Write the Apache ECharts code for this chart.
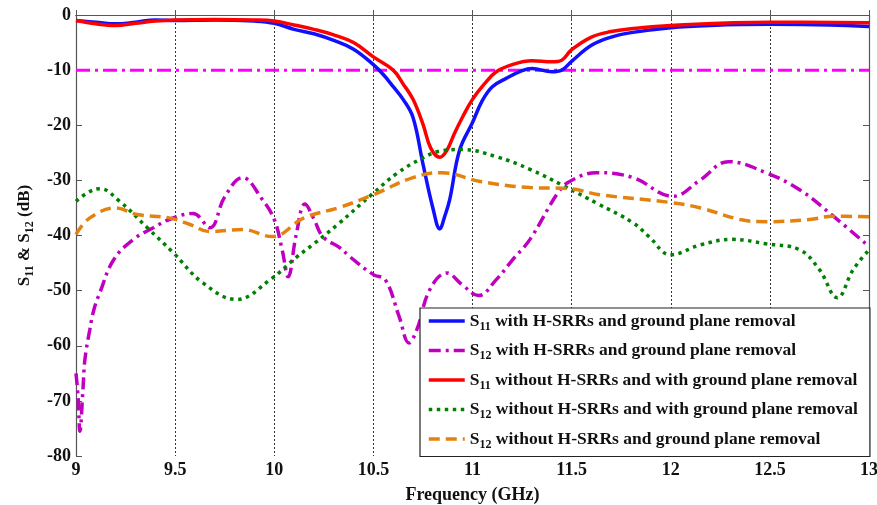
<!DOCTYPE html>
<html>
<head>
<meta charset="utf-8">
<script src="https://cdn.jsdelivr.net/npm/echarts@6/dist/echarts.min.js"></script>
<style>html,body{margin:0;padding:0;background:#fff}#c{width:877px;height:505px}</style>
</head>
<body>
<div id="c"></div>
<script>
// ---- data (GHz, dB) ----
const xTicks = [9, 9.5, 10, 10.5, 11, 11.5, 12, 12.5, 13];
const yTicks = [0, -10, -20, -30, -40, -50, -60, -70, -80];
const seriesNames = [
  'S11 with H-SRRs and ground plane removal',
  'S12 with H-SRRs and ground plane removal',
  'S11 without H-SRRs and with ground plane removal',
  'S12 without H-SRRs and with ground plane removal',
  'S12 without H-SRRs and ground plane removal'
];
const s11With = [[9,-1],[9.1,-1.3],[9.2,-1.6],[9.3,-1.3],[9.4,-0.9],[9.5,-1],[9.7,-0.9],[9.9,-1.1],[10,-1.5],[10.1,-2.6],[10.2,-3.4],[10.3,-4.6],[10.4,-6.2],[10.5,-9],[10.55,-10.8],[10.6,-13],[10.65,-15.3],[10.7,-18.6],[10.75,-27],[10.8,-35],[10.835,-38.8],[10.86,-36.5],[10.885,-33.5],[10.935,-24.5],[11,-19.5],[11.05,-15.5],[11.1,-13],[11.17,-11.5],[11.25,-10.1],[11.3,-9.7],[11.4,-10.3],[11.45,-10],[11.5,-8.4],[11.6,-5.5],[11.7,-4],[11.8,-3.2],[12,-2.3],[12.2,-1.9],[12.5,-1.7],[12.8,-1.8],[13,-2.1]];
const s12With = [[9,-65],[9.01,-69],[9.02,-75.5],[9.035,-68],[9.045,-62.5],[9.07,-57],[9.09,-53.5],[9.12,-50.4],[9.19,-44.4],[9.29,-40.7],[9.39,-38.6],[9.47,-37.1],[9.59,-36],[9.675,-38.6],[9.75,-33],[9.84,-29.5],[9.94,-33.5],[10,-37.1],[10.04,-42.6],[10.07,-47.5],[10.11,-40],[10.155,-34.3],[10.2,-37],[10.245,-40.2],[10.33,-42.2],[10.38,-43.8],[10.5,-47.1],[10.56,-48],[10.63,-54.7],[10.68,-59.5],[10.72,-57],[10.785,-49.8],[10.87,-46.8],[10.95,-49],[11.03,-50.9],[11.12,-48],[11.2,-44.5],[11.29,-40.7],[11.43,-32.3],[11.49,-30.2],[11.625,-28.6],[11.81,-29.5],[12.01,-32.9],[12.15,-29.9],[12.29,-26.6],[12.48,-28.6],[12.65,-31.7],[12.82,-36.5],[13,-42]];
const s11Without = [[9,-1],[9.1,-1.6],[9.2,-1.9],[9.3,-1.5],[9.4,-1.1],[9.5,-0.9],[9.7,-0.8],[9.9,-0.9],[10,-1.1],[10.1,-1.8],[10.2,-2.6],[10.3,-3.6],[10.4,-5],[10.5,-7.6],[10.6,-10],[10.65,-12.5],[10.7,-15.3],[10.75,-19.8],[10.79,-24.2],[10.835,-25.8],[10.87,-24.6],[10.91,-21.4],[10.95,-18.5],[11,-15.3],[11.06,-12.5],[11.12,-10.3],[11.2,-9],[11.3,-8.3],[11.4,-8.5],[11.45,-8.2],[11.5,-6.3],[11.6,-4],[11.7,-3],[11.8,-2.5],[12,-1.9],[12.5,-1.3],[13,-1.4]];
const s12WithoutGpr = [[9,-33.8],[9.06,-32.2],[9.12,-31.5],[9.22,-33.8],[9.36,-38.6],[9.49,-43.1],[9.64,-48.6],[9.81,-51.6],[9.98,-48],[10.11,-44],[10.2,-41.5],[10.32,-38],[10.5,-32.3],[10.62,-28.7],[10.735,-26.2],[10.835,-24.7],[10.95,-24.4],[11.12,-25.7],[11.29,-28],[11.46,-31],[11.63,-34.2],[11.81,-37.7],[11.89,-40.2],[12,-43.5],[12.15,-41.7],[12.31,-40.7],[12.48,-41.5],[12.65,-42.6],[12.75,-46.2],[12.84,-51.3],[12.92,-46.2],[13,-42.6]];
const s12WithoutBoth = [[9,-39.8],[9.07,-36.8],[9.2,-35],[9.31,-36.2],[9.47,-36.8],[9.575,-38],[9.675,-39.3],[9.84,-38.9],[9.99,-40.2],[10.15,-36.8],[10.33,-34.9],[10.5,-32.6],[10.7,-29.5],[10.845,-28.6],[11.04,-30.2],[11.29,-31.3],[11.49,-31.5],[11.64,-32.6],[11.995,-34],[12.15,-35],[12.35,-37.1],[12.48,-37.5],[12.7,-37.1],[12.82,-36.5],[13,-36.6]];
const refLine = [[9,-10],[13,-10]];

const FONT = '"Liberation Serif","Times New Roman",serif';
const chart = echarts.init(document.getElementById('c'), null, {renderer:'canvas'});

function richName(n){
  return n.replace(/^S(\d\d)(.*)$/, '{m|S}{s|$1}{m|$2}');
}
const legendRich = {
  m:{fontFamily:FONT,fontWeight:'bold',fontSize:17.5,color:'#111',lineHeight:22,verticalAlign:'middle'},
  s:{fontFamily:FONT,fontWeight:'bold',fontSize:12,color:'#111',lineHeight:23,verticalAlign:'bottom'}
};
const nameRich = {
  m:{fontFamily:FONT,fontWeight:'bold',fontSize:17,color:'#111',lineHeight:22,verticalAlign:'middle'},
  s:{fontFamily:FONT,fontWeight:'bold',fontSize:12,color:'#111',lineHeight:23,verticalAlign:'bottom'}
};

function lineSeries(name, data, color, type, width){
  return {name, type:'line', data, symbol:'none', showSymbol:false, smooth:0.4,
    xAxisIndex:0, yAxisIndex:0,
    lineStyle:{color, width, type, cap:'butt'}, itemStyle:{color}, emphasis:{disabled:true}, animation:false};
}

const frameAxis = {lineStyle:{color:'#555',width:1.2}};
chart.setOption({
  animation:false,
  backgroundColor:'#fff',
  grid:{left:76,right:8,top:15,bottom:49,containLabel:false,outerBoundsMode:'none'},
  xAxis:[{
    type:'value', min:xTicks[0], max:xTicks[xTicks.length-1], interval:0.5,
    name:'Frequency (GHz)', nameLocation:'middle', nameGap:30,
    nameTextStyle:{fontFamily:FONT,fontWeight:'bold',fontSize:18,color:'#111'},
    axisLine:{show:true,...frameAxis}, axisTick:{show:true,inside:true,length:5,lineStyle:{color:'#555'}},
    axisLabel:{fontFamily:FONT,fontWeight:'bold',fontSize:18,color:'#111',margin:5},
    splitLine:{show:true,lineStyle:{color:'#333',type:[2,2],width:1}}
  },{
    type:'value', position:'top', min:9, max:13, interval:0.5,
    axisLine:{show:true,onZero:false,...frameAxis}, axisTick:{show:true,inside:true,length:5,lineStyle:{color:'#555'}},
    axisLabel:{show:false}, splitLine:{show:false}
  }],
  yAxis:[{
    type:'value', min:yTicks[yTicks.length-1], max:yTicks[0], interval:10,
    name:'{m|S}{s|11}{m| & S}{s|12}{m| (dB)}', nameLocation:'middle', nameGap:40,
    nameTextStyle:{rich:nameRich},
    axisLine:{show:true,onZero:false,...frameAxis}, axisTick:{show:true,inside:true,length:6,lineStyle:{color:'#555'}},
    axisLabel:{fontFamily:FONT,fontWeight:'bold',fontSize:18,color:'#111',margin:5},
    splitLine:{show:false}
  },{
    type:'value', position:'right', min:-80, max:0, interval:10,
    axisLine:{show:true,onZero:false,...frameAxis}, axisTick:{show:true,inside:true,length:6,lineStyle:{color:'#555'}},
    axisLabel:{show:false}, splitLine:{show:false}
  }],
  legend:{
    data:seriesNames, orient:'vertical', left:420, top:308,
    backgroundColor:'#fff', borderColor:'#222', borderWidth:1.2, borderRadius:0,
    padding:[4,12,6,7], itemGap:9, itemWidth:36, itemHeight:22, selectedMode:false,
    itemStyle:{opacity:0},
    lineStyle:{width:3.5},
    formatter:richName,
    textStyle:{rich:legendRich, fontFamily:FONT, fontWeight:'bold', fontSize:17.5, color:'#111'}
  },
  series:[
    {name:'ref', type:'line', data:refLine, symbol:'none', lineStyle:{color:'#ff00ff',width:3,type:[14,5,3,5]}, z:1, silent:true, animation:false},
    lineSeries(seriesNames[0], s11With, '#1010ff', 'solid', 3.5),
    lineSeries(seriesNames[1], s12With, '#c000c0', [12,5,3,5], 3.5),
    lineSeries(seriesNames[2], s11Without, '#ff0000', 'solid', 3.5),
    lineSeries(seriesNames[3], s12WithoutGpr, '#007f00', [3.5,4.5], 3.5),
    lineSeries(seriesNames[4], s12WithoutBoth, '#e3820f', [11,6], 3.5)
  ]
});
</script>
</body>
</html>
